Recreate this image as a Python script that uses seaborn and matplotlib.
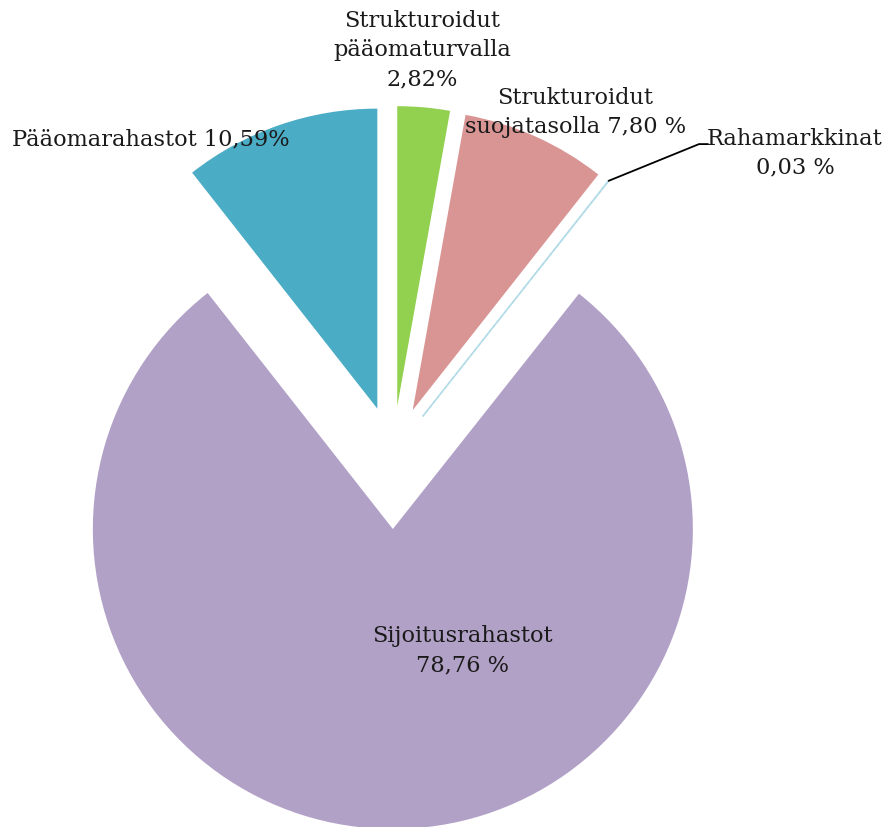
import numpy as np
import matplotlib
matplotlib.use("Agg")
import matplotlib.pyplot as plt
import seaborn as sns

# Data
categories = ["Strukturoidut\npääomaturvalla", "Strukturoidut\nsuojatasolla",
              "Rahamarkkinat", "Sijoitusrahastot", "Pääomarahastot"]
shares = [2.82, 7.80, 0.03, 78.76, 10.59]
value_labels = ["2,82%", "7,80 %", "0,03 %", "78,76 %", "10,59%"]
colors = ["#92D050", "#D99594", "#B7DDE8", "#B2A1C7", "#4BACC6"]
explode = [0.16, 0.16, 0.16, 0.25, 0.16]

sns.set_theme(style="white")
plt.rcParams['font.family'] = ['DejaVu Serif']

fig = plt.figure(figsize=(8.88, 8.28), dpi=100)
ax = fig.add_axes([0, 0, 1, 1])

wedges, _ = ax.pie(shares, colors=colors, explode=explode, startangle=90,
                   counterclock=False, radius=1.0,
                   wedgeprops=dict(linewidth=0))
# tiny slice drawn as a thin light-blue outline
wedges[2].set_edgecolor("#B7DDE8")
wedges[2].set_linewidth(1.0)

# scale: 300 px per unit, centre at pixel (393, 455)
ax.set_xlim(-393 / 300, (888 - 393) / 300)
ax.set_ylim(-(828 - 455) / 300, 455 / 300)
ax.set_aspect("equal")
ax.axis("off")

fs = 16.2
ls = 1.42
txt = dict(ha="center", va="center", fontsize=fs, linespacing=ls, color="#1a1a1a")
ax.text(0.097, 1.35, categories[0] + "\n" + value_labels[0], **txt)
ax.text(0.607, 1.143, categories[1] + " " + value_labels[1], **txt)
ax.text(1.34, 1.006, categories[2] + "\n" + value_labels[2], **txt)
ax.text(-0.807, 1.053, categories[4] + " " + value_labels[4], **txt)
ax.text(0.23, -0.653, categories[3] + "\n" + value_labels[3], **txt)

# leader line for the tiny slice
w = wedges[2]
ang = np.deg2rad((w.theta1 + w.theta2) / 2)
cx, cy = w.center
tip = (cx + w.r * np.cos(ang), cy + w.r * np.sin(ang))
ax.plot([tip[0], 1.02, 1.05], [tip[1], 1.033, 1.033], color="black", lw=1.3)

fig.savefig("out.png", dpi=100)
